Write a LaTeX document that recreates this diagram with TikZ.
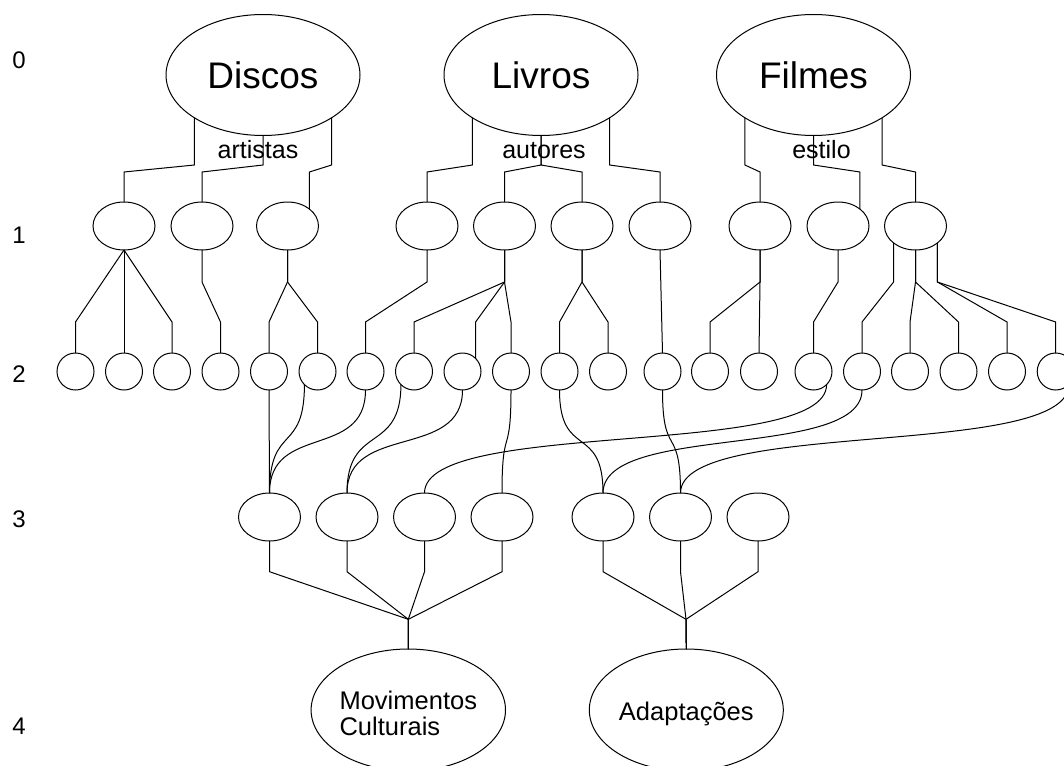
\documentclass[tikz,border=0pt]{standalone}
\usepackage{fontspec}
\setmainfont{Liberation Sans}
\usetikzlibrary{shapes.geometric}
\begin{document}
\begin{tikzpicture}[x=1pt,y=-1pt,line width=1pt,
  big/.style={draw,ellipse,minimum width=194pt,minimum height=121pt,inner sep=0pt,outer sep=0pt,font=\fontsize{37}{40}\selectfont},
  res/.style={draw,ellipse,minimum width=194pt,minimum height=122pt,inner sep=0pt,outer sep=0pt,font=\fontsize{25.5}{26.5}\selectfont},
  mid/.style={draw,ellipse,minimum width=62pt,minimum height=48pt,inner sep=0pt,outer sep=0pt},
  leaf/.style={draw,circle,minimum size=37pt,inner sep=0pt,outer sep=0pt},
  tag/.style={font=\fontsize{25}{27}\selectfont,anchor=base,inner sep=0pt},
  lvl/.style={font=\fontsize{24}{26}\selectfont,inner sep=0pt},
  wire/.style={draw=black,line width=1pt}
]
\clip (0,0) rectangle (1064,765);

% level numbers
\node[lvl] (n0) at (19,60) {0};
\node[lvl] (n1) at (19,235) {1};
\node[lvl] (n2) at (19,374) {2};
\node[lvl] (n3) at (19,519) {3};
\node[lvl] (n4) at (19,726.5) {4};

% level 0
\node[big] (D) at (263,75) {Discos};
\node[big] (L) at (541,75) {Livros};
\node[big] (F) at (813.5,75) {Filmes};

% level 1
\foreach \n/\x in {1/124,2/202,3/287.5,4/427,5/504.5,6/582,7/660,8/760,9/838,10/915.5}
  \node[mid] (a\n) at (\x,226) {};

% level 2
\foreach \n/\x in {1/75.5,2/124,3/172,4/220.5,5/269,6/317.5,7/365.5,8/414,9/462.5,10/511,11/559.5,12/608,13/662.5,14/710,15/759,16/813.5,17/862,18/910,19/958.5,20/1007,21/1055.7}
  \node[leaf] (b\n) at (\x,371.5) {};

% level 3
\foreach \n/\x in {1/269.5,2/347,3/424.5,4/502,5/603,6/680.5,7/758}
  \node[mid] (e\n) at (\x,517) {};

% level 4
\node[res] (M) at (408.3,710) {\raisebox{-7pt}[\height][\depth]{\begin{tabular}{@{}l@{}}Movimentos\\Culturais\end{tabular}}};
\node[res] (A) at (686.3,710) {\raisebox{-4pt}[\height][\depth]{Adaptações}};
\coordinate (J1) at (408.3,619.3);
\coordinate (J2) at (686,619.3);

% labels
\node[tag] (t1) at (258,158) {artistas};
\node[tag] (t2) at (544,158) {autores};
\node[tag] (t3) at (821.5,158) {estilo};

% level 0 -> level 1
\draw[wire] (D.south west) -- (D.south west |- 0,165) -- (a1.north |- 0,172) -- (a1.north);
\draw[wire] (D.south) -- (D.south |- 0,165) -- (a2.north |- 0,172) -- (a2.north);
\draw[wire] (D.south east) -- (D.south east |- 0,165) -- (a3.north east |- 0,172) -- (a3.north east);
\draw[wire] (L.south west) -- (L.south west |- 0,165) -- (a4.north |- 0,172) -- (a4.north);
\draw[wire] (L.south) -- (L.south |- 0,165) -- (a5.north |- 0,172) -- (a5.north);
\draw[wire] (L.south) -- (L.south |- 0,165) -- (a6.north |- 0,172) -- (a6.north);
\draw[wire] (L.south east) -- (L.south east |- 0,165) -- (a7.north |- 0,172) -- (a7.north);
\draw[wire] (F.south west) -- (F.south west |- 0,165) -- (a8.north |- 0,172) -- (a8.north);
\draw[wire] (F.south) -- (F.south |- 0,165) -- (a9.north east |- 0,172) -- (a9.north east);
\draw[wire] (F.south east) -- (F.south east |- 0,165) -- (a10.north |- 0,172) -- (a10.north);

% level 1 -> level 2
\draw[wire] (a1.south) -- (b1.north |- 0,322) -- (b1.north);
\draw[wire] (a1.south) -- (b2.north);
\draw[wire] (a1.south) -- (b3.north |- 0,322) -- (b3.north);
\draw[wire] (a2.south) -- (a2.south |- 0,282) -- (b4.north |- 0,322) -- (b4.north);
\draw[wire] (a3.south) -- (a3.south |- 0,282) -- (b5.north |- 0,322) -- (b5.north);
\draw[wire] (a3.south) -- (a3.south |- 0,282) -- (b6.north |- 0,322) -- (b6.north);
\draw[wire] (a4.south) -- (a4.south |- 0,282) -- (b7.north |- 0,322) -- (b7.north);
\draw[wire] (a5.south) -- (a5.south |- 0,282) -- (b8.north |- 0,322) -- (b8.north);
\draw[wire] (a5.south) -- (a5.south |- 0,282) -- (b9.north east |- 0,322) -- (b9.north east);
\draw[wire] (a5.south) -- (a5.south |- 0,282) -- (b10.north |- 0,322) -- (b10.north);
\draw[wire] (a6.south) -- (a6.south |- 0,282) -- (b11.north |- 0,322) -- (b11.north);
\draw[wire] (a6.south) -- (a6.south |- 0,282) -- (b12.north |- 0,322) -- (b12.north);
\draw[wire] (a7.south) -- (b13.north);
\draw[wire] (a8.south) -- (a8.south |- 0,282) -- (b14.north |- 0,322) -- (b14.north);
\draw[wire] (a8.south) -- (a8.south |- 0,282) -- (b15.north);
\draw[wire] (a9.south) -- (a9.south |- 0,282) -- (b16.north |- 0,322) -- (b16.north);
\draw[wire] (a10.south west) -- (a10.south west |- 0,282) -- (b17.north |- 0,322) -- (b17.north);
\draw[wire] (a10.south) -- (a10.south |- 0,282) -- (b18.north |- 0,322) -- (b18.north);
\draw[wire] (a10.south) -- (a10.south |- 0,282) -- (b19.north |- 0,322) -- (b19.north);
\draw[wire] (a10.south east) -- (a10.south east |- 0,282) -- (b20.north |- 0,322) -- (b20.north);
\draw[wire] (a10.south east) -- (a10.south east |- 0,282) -- (b21.north |- 0,322) -- (b21.north);

% level 2 -> level 3
\draw[wire] (b5.south) -- (e1.north);
\draw[wire] (b6.south west) .. controls +(0,70) and +(0,-70) .. (e1.north);
\draw[wire] (b7.south) .. controls +(0,70) and +(0,-70) .. (e1.north);
\draw[wire] (b8.south west) .. controls +(0,70) and +(0,-70) .. (e2.north);
\draw[wire] (b9.south) .. controls +(0,70) and +(0,-70) .. (e2.north);
\draw[wire] (b10.south) .. controls +(0,70) and +(0,-70) .. (e4.north);
\draw[wire] (b11.south) .. controls +(0,70) and +(0,-70) .. (e5.north);
\draw[wire] (b13.south) .. controls +(0,70) and +(0,-70) .. (e6.north);
\draw[wire] (b16.south east) .. controls +(0,75) and +(0,-75) .. (e3.north);
\draw[wire] (b17.south) .. controls +(0,70) and +(0,-70) .. (e5.north);
\draw[wire] (b21.south east) .. controls +(0,75) and +(0,-75) .. (e6.north);

% level 3 -> level 4
\foreach \k in {1,2,3,4}
  \draw[wire] (e\k.south) -- (e\k.south |- 0,571.7) -- (J1) -- (M.north);
\foreach \k in {5,6,7}
  \draw[wire] (e\k.south) -- (e\k.south |- 0,571.7) -- (J2) -- (A.north);
\end{tikzpicture}
\end{document}
